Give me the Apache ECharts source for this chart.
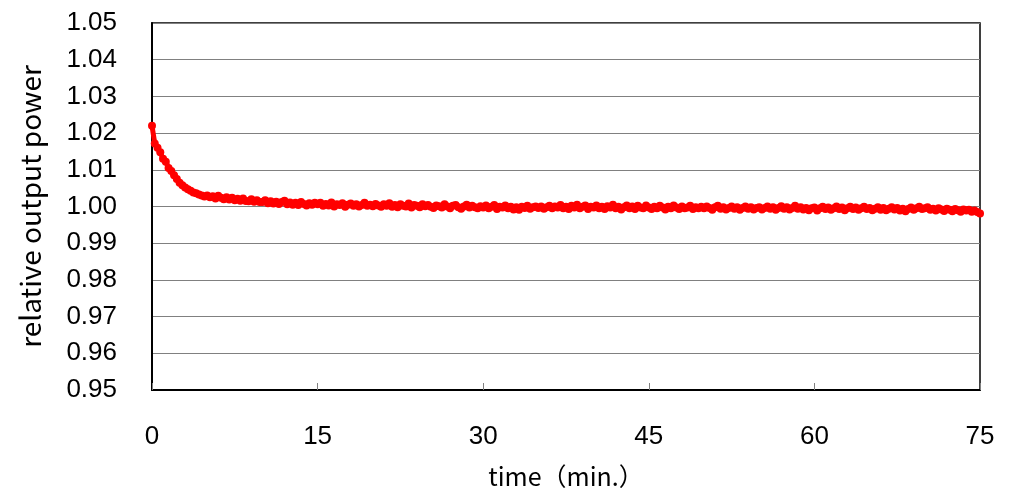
<!DOCTYPE html>
<html>
<head>
<meta charset="utf-8">
<script src="https://cdn.jsdelivr.net/npm/echarts@6/dist/echarts.min.js"></script>
<style>html,body{margin:0;padding:0;background:#fff}#c{width:1024px;height:504px}</style>
</head>
<body>
<div id="c"></div>
<script>
// time step between samples (minutes), starting at 0
const timeStart = 0;
const timeStep = 0.25;
// relative output power
const power = [
1.0220,1.0172,1.0160,1.0148,1.0130,1.0122,1.0105,1.0097,1.0085,1.0075,1.0065,1.0058,1.0052,1.0047,1.0043,1.0038,1.0036,1.0033,1.0030,1.0027,
1.0030,1.0025,1.0028,1.0022,1.0029,1.0024,1.0020,1.0025,1.0019,1.0024,1.0017,1.0021,1.0016,1.0022,1.0015,1.0014,1.0020,1.0013,1.0017,1.0012,
1.0012,1.0017,1.0009,1.0014,1.0008,1.0013,1.0007,1.0012,1.0016,1.0006,1.0011,1.0005,1.0010,1.0004,1.0012,1.0007,1.0003,1.0009,1.0005,1.0010,
1.0006,1.0010,1.0002,1.0007,1.0003,1.0011,1.0000,1.0006,1.0004,1.0009,0.9999,1.0005,1.0008,1.0002,1.0006,1.0000,1.0004,1.0010,1.0002,1.0005,
1.0001,1.0007,1.0003,0.9999,1.0006,1.0002,1.0009,0.9999,1.0004,0.9998,1.0006,1.0002,1.0000,1.0008,0.9997,1.0004,1.0002,0.9998,1.0006,1.0001,
1.0004,0.9999,0.9996,1.0003,1.0001,0.9997,1.0006,1.0000,0.9995,1.0002,1.0004,0.9998,0.9994,1.0000,1.0005,0.9997,1.0002,0.9998,0.9995,1.0001,
0.9997,1.0003,0.9995,0.9999,1.0004,0.9993,0.9999,0.9997,1.0003,0.9995,0.9999,0.9992,0.9998,0.9991,0.9999,0.9996,1.0002,0.9994,0.9998,1.0000,
0.9996,1.0000,0.9994,0.9998,1.0002,0.9995,1.0000,0.9997,1.0004,0.9995,0.9999,0.9993,1.0002,0.9997,1.0005,0.9995,0.9999,1.0003,0.9993,0.9999,
0.9997,1.0003,0.9995,0.9999,0.9993,1.0001,0.9997,1.0005,0.9995,0.9999,0.9992,0.9998,1.0003,0.9995,1.0000,0.9993,1.0002,0.9997,0.9995,1.0003,
0.9997,0.9993,0.9999,0.9995,1.0002,0.9997,0.9992,0.9999,0.9995,1.0003,0.9997,0.9993,1.0000,0.9995,0.9997,1.0002,0.9993,0.9998,0.9995,0.9999,
0.9995,1.0000,0.9996,0.9991,0.9998,1.0002,0.9994,0.9998,0.9992,0.9996,1.0000,0.9994,0.9998,0.9991,0.9996,1.0000,0.9994,0.9998,0.9992,0.9996,
0.9998,0.9992,0.9996,1.0000,0.9994,0.9998,0.9991,0.9996,1.0001,0.9994,0.9998,0.9992,0.9996,1.0002,0.9994,0.9998,0.9992,0.9996,0.9990,0.9995,
0.9997,0.9989,0.9995,0.9999,0.9993,0.9997,0.9991,0.9995,1.0000,0.9993,0.9997,0.9990,0.9995,0.9999,0.9993,0.9997,0.9991,0.9995,0.9999,0.9993,
0.9996,0.9990,0.9994,0.9998,0.9991,0.9996,0.9990,0.9994,0.9998,0.9992,0.9996,0.9989,0.9994,0.9987,0.9993,0.9997,0.9991,0.9995,0.9999,0.9993,
0.9995,0.9998,0.9991,0.9994,0.9989,0.9995,0.9992,0.9988,0.9994,0.9991,0.9987,0.9993,0.9990,0.9986,0.9992,0.9989,0.9991,0.9986,0.9989,0.9985,
0.9981
];
const xTicks = [0, 15, 30, 45, 60, 75];
const yMin = 0.95, yMax = 1.05, yStep = 0.01;
const xName = 'time（min.）';
const yName = 'relative output power';

const seriesData = power.map((v, i) => [timeStart + i * timeStep, v]);
const numFont = '"Liberation Sans", Arial, sans-serif';
const nameFont = '"Noto Sans CJK JP", "Liberation Sans", sans-serif';

const chart = echarts.init(document.getElementById('c'), null, {renderer: 'canvas'});
chart.setOption({
  animation: false,
  backgroundColor: '#fff',
  grid: {left: 152, right: 44, top: 23, bottom: 114, show: true, borderColor: '#000', borderWidth: 1.5, backgroundColor: 'transparent'},
  xAxis: {
    type: 'value', min: xTicks[0], max: xTicks[xTicks.length - 1], interval: 15,
    name: xName, nameLocation: 'middle', nameGap: 74,
    nameTextStyle: {fontFamily: nameFont, fontSize: 25, color: '#000'},
    axisLine: {show: true, lineStyle: {color: '#000', width: 2}},
    axisTick: {show: true, inside: true, length: 7, lineStyle: {color: '#808080', width: 1}},
    axisLabel: {fontFamily: numFont, fontSize: 26, color: '#000', margin: 34},
    splitLine: {show: false}
  },
  yAxis: {
    type: 'value', min: yMin, max: yMax, interval: yStep,
    name: yName, nameLocation: 'middle', nameGap: 108,
    nameTextStyle: {fontFamily: nameFont, fontSize: 28, color: '#000'},
    axisLine: {show: true, lineStyle: {color: '#000', width: 2}},
    axisTick: {show: false},
    axisLabel: {fontFamily: numFont, fontSize: 26, color: '#000', margin: 35, formatter: v => v.toFixed(2)},
    splitLine: {show: true, lineStyle: {color: '#808080', width: 1}}
  },
  series: [{
    type: 'line', data: seriesData,
    symbol: 'circle', symbolSize: 8, showSymbol: true,
    itemStyle: {color: '#ff0000'},
    lineStyle: {color: '#ff0000', width: 5},
    z: 5
  }]
});
</script>
</body>
</html>
